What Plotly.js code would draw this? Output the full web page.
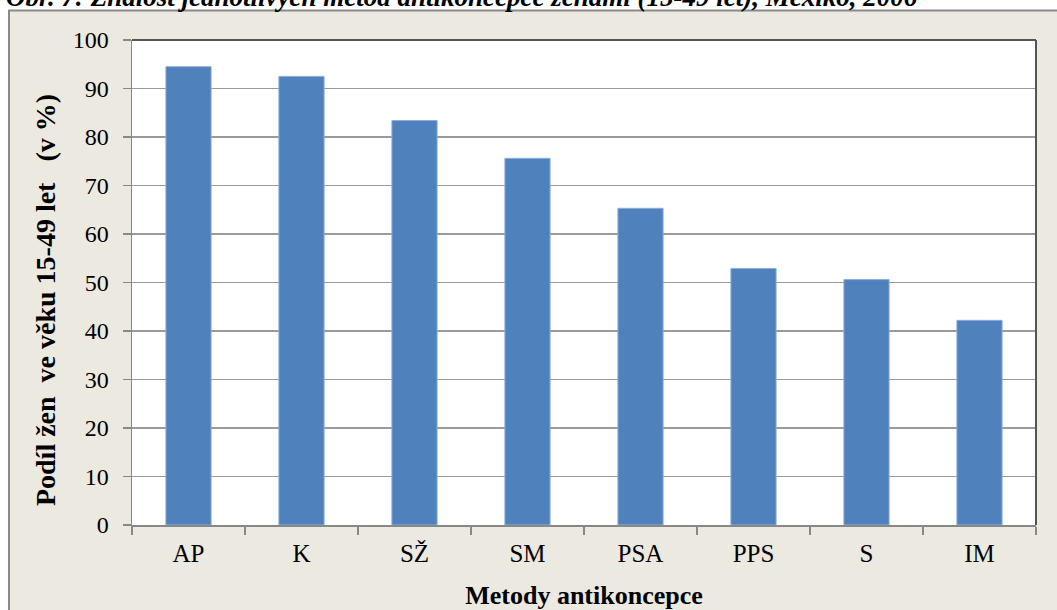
<!DOCTYPE html>
<html>
<head>
<meta charset="utf-8">
<script src="https://cdn.plot.ly/plotly-3.0.1.min.js"></script>
<style>
  html, body { margin: 0; padding: 0; background: #ffffff; }
  #chart { width: 1057px; height: 610px; }
</style>
</head>
<body>
<div id="chart"></div>
<script>
// Methods of contraception (abbreviations) and share of women aged 15-49 who know them (%)
const methods = ['AP', 'K', 'SŽ', 'SM', 'PSA', 'PPS', 'S', 'IM'];
const shares = [94.5, 92.5, 83.4, 75.6, 65.3, 52.9, 50.6, 42.2];

const figureTitle = 'Obr. 7: Znalost jednotlivých metod antikoncepce ženami (15-49 let), Mexiko, 2006';
const xTitle = 'Metody antikoncepce';
const yTitle = 'Podíl žen\u00a0 ve věku 15-49 let\u00a0\u00a0 (v %)\u00a0\u00a0\u00a0\u00a0\u00a0';

const W = 1057, H = 610;
const M = { l: 132, r: 21, t: 39.5, b: 84.5 };
const plotW = W - M.l - M.r, plotH = H - M.t - M.b;
// convert pixel positions to paper coordinates
const px = x => (x - M.l) / plotW;
const py = y => (H - M.b - y) / plotH;

const serif = "'Liberation Serif', 'Times New Roman', serif";

const trace = {
  type: 'bar',
  x: methods,
  y: shares,
  marker: { color: '#4F81BD', line: { color: '#8DAEDB', width: 1 } },
  hoverinfo: 'x+y'
};

const layout = {
  width: W, height: H,
  margin: M,
  paper_bgcolor: '#ffffff',
  plot_bgcolor: '#ffffff',
  showlegend: false,
  bargap: 0.6,
  font: { family: serif, color: '#000000', size: 24 },
  annotations: [
    // figure caption running along the top edge of the page
    { text: '<b><i>' + figureTitle + '</i></b>',
      xref: 'paper', yref: 'paper', x: px(4), y: py(-4),
      xanchor: 'left', yanchor: 'middle', showarrow: false,
      font: { family: serif, size: 27, color: '#000000' } }
  ],
  xaxis: {
    type: 'category',
    showgrid: false,
    showline: true, linecolor: '#888888', linewidth: 1.5,
    ticks: 'outside', tickson: 'boundaries', ticklen: 8, tickcolor: '#888888', tickwidth: 1.5,
    ticklabelstandoff: 5,
    tickfont: { family: serif, size: 25, color: '#000000' },
    title: { text: '<b>' + xTitle + '</b>', font: { family: serif, size: 26 }, standoff: 20 },
    fixedrange: true
  },
  yaxis: {
    range: [0, 100], dtick: 10, tick0: 0,
    showgrid: true, gridcolor: '#9a9a9a', gridwidth: 1.5,
    zeroline: false,
    showline: true, linecolor: '#888888', linewidth: 1.5,
    ticks: 'outside', ticklen: 8, tickcolor: '#888888', tickwidth: 1.5,
    ticklabelstandoff: 9,
    tickfont: { family: serif, size: 24, color: '#000000' },
    title: { text: '<b>' + yTitle + '</b>', font: { family: serif, size: 28 }, standoff: 9 },
    fixedrange: true
  },
  shapes: [
    // beige chart-area panel with grey frame
    { type: 'rect', xref: 'paper', yref: 'paper', layer: 'below',
      x0: px(9), x1: px(W + 20), y0: py(H + 20), y1: py(10),
      fillcolor: '#ECE9E0', line: { color: '#8a8a8a', width: 2 } },
    // white plotting area
    { type: 'rect', xref: 'paper', yref: 'paper', layer: 'below',
      x0: 0, x1: 1, y0: 0, y1: 1,
      fillcolor: '#ffffff', line: { width: 0 } },
    // dark top and right frame of the plotting area
    { type: 'line', xref: 'paper', yref: 'paper', layer: 'above',
      x0: 0, x1: 1, y0: 1, y1: 1, line: { color: '#555555', width: 2 } },
    { type: 'line', xref: 'paper', yref: 'paper', layer: 'above',
      x0: 1, x1: 1, y0: 0, y1: 1, line: { color: '#555555', width: 2 } }
  ]
};

Plotly.newPlot('chart', [trace], layout, { displayModeBar: false, staticPlot: true });
</script>
</body>
</html>
